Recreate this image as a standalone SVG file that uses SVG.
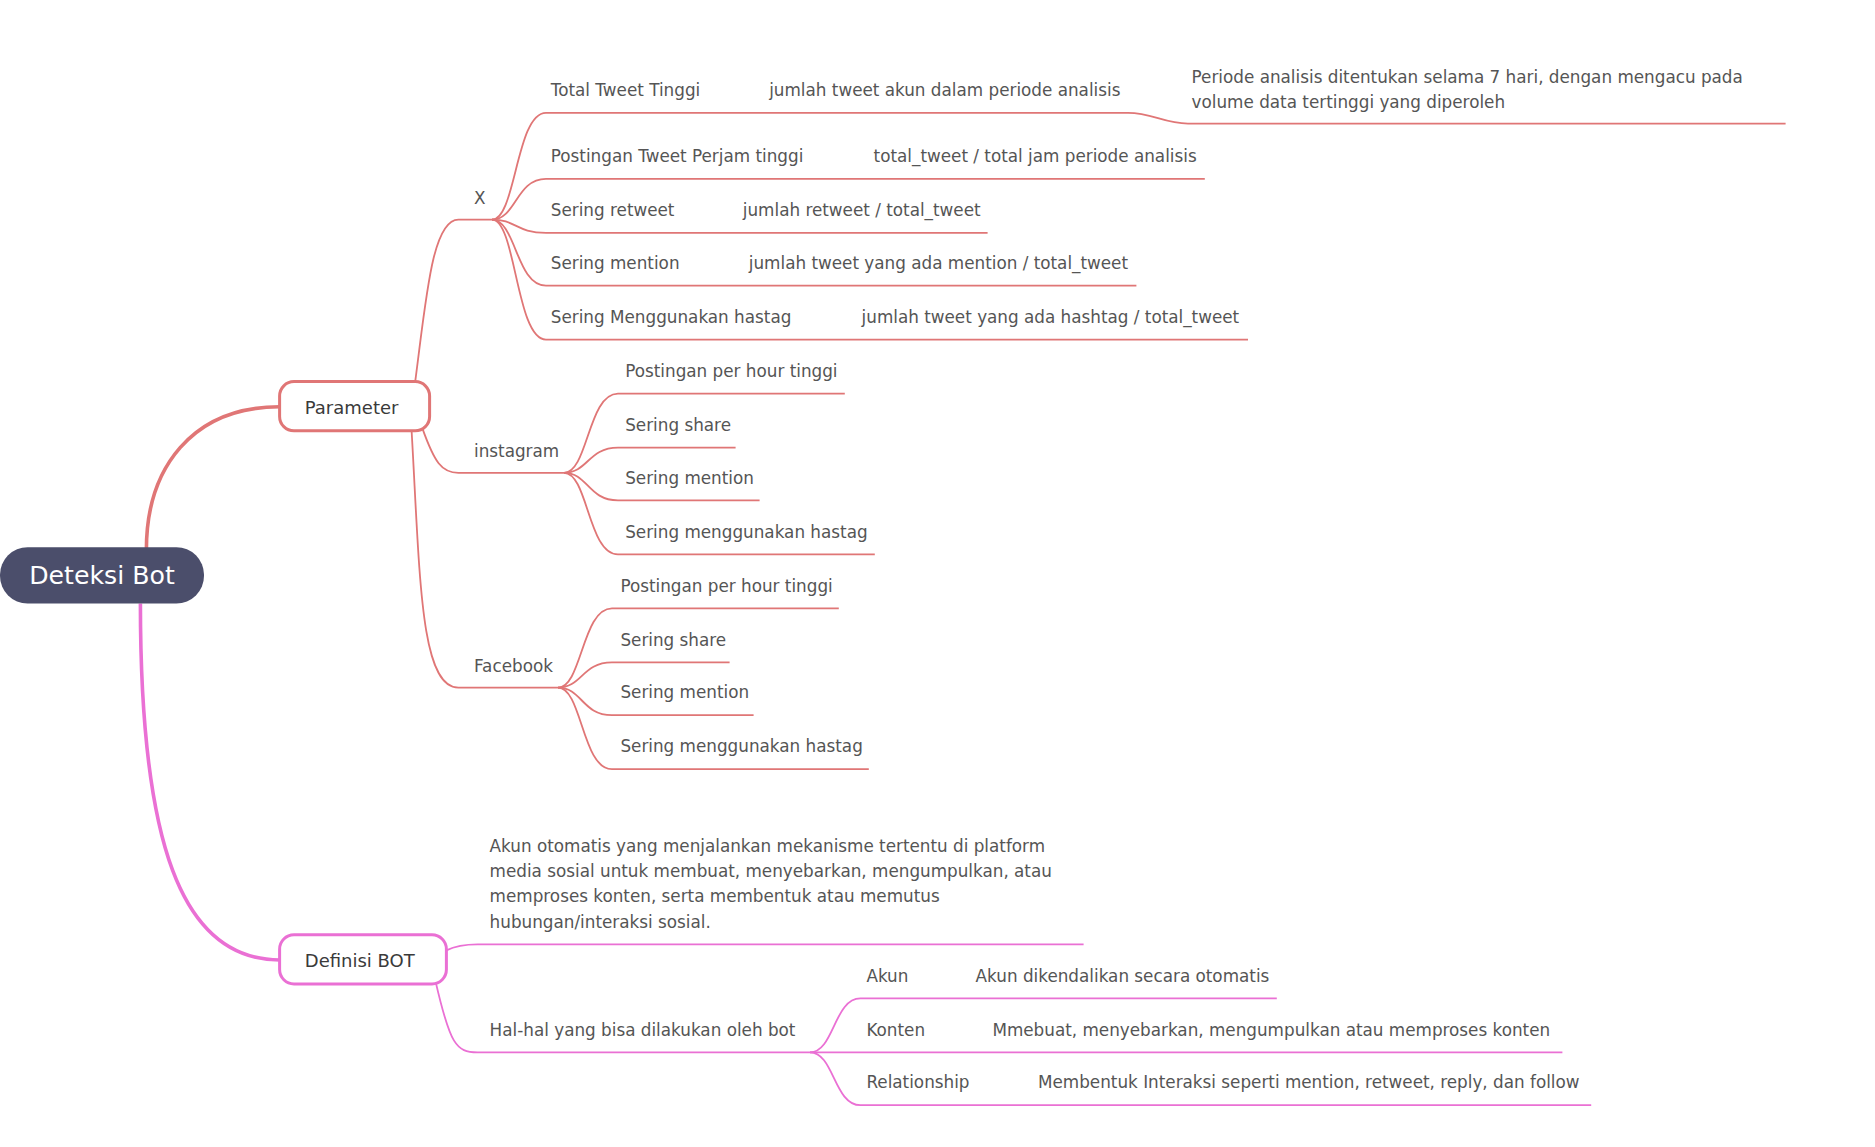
<svg xmlns="http://www.w3.org/2000/svg" width="1875" height="1147" viewBox="0 0 1875 1147">
<style>
text{font-family:"DejaVu Sans","Liberation Sans",sans-serif;font-size:14px;fill:#555}
.r{fill:none;stroke:#e07676;stroke-width:1.5}
.p{fill:none;stroke:#ea70d4;stroke-width:1.5}
</style>
<rect width="1875" height="1147" fill="#fff"/>
<g transform="scale(1.2)">
<g id="connectors">
<path d="M122,458 C122,390 160,339 233,339" fill="none" stroke="#e07676" stroke-width="3"/>
<path d="M117,503 C117,700 150,800 233,800" fill="none" stroke="#ea70d4" stroke-width="3"/>
<path class="r" d="M346,318 C355,250 360,183 382,183 H410"/>
<path class="r" d="M410,183 C430,183 430,94 455,94 H940 C960,94 970,103 990,103 H1488"/>
<path class="r" d="M410,183 C430,183 430,149 455,149 H1004"/>
<path class="r" d="M410,183 C430,183 430,194 455,194 H823"/>
<path class="r" d="M410,183 C430,183 430,238 455,238 H947"/>
<path class="r" d="M410,183 C430,183 430,283 455,283 H1040"/>
<path class="r" d="M352,357 C362,385 368,394 382,394 H470"/>
<path class="r" d="M470,394 C490,394 490,328 515,328 H704"/>
<path class="r" d="M470,394 C490,394 490,373 515,373 H613"/>
<path class="r" d="M470,394 C490,394 490,417 515,417 H633"/>
<path class="r" d="M470,394 C490,394 490,462 515,462 H729"/>
<path class="r" d="M343,359 C350,480 350,573 382,573 H465"/>
<path class="r" d="M465,573 C485,573 485,507 510,507 H699"/>
<path class="r" d="M465,573 C485,573 485,552 510,552 H608"/>
<path class="r" d="M465,573 C485,573 485,596 510,596 H628"/>
<path class="r" d="M465,573 C485,573 485,641 510,641 H724"/>
<path class="p" d="M372,792 C380,788 388,787 398,787 H903"/>
<path class="p" d="M363,818 C375,870 380,877 398,877 H675"/>
<path class="p" d="M675,877 C695,877 695,832 717,832 H1064"/>
<path class="p" d="M675,877 H1302"/>
<path class="p" d="M675,877 C695,877 695,921 717,921 H1326"/>
</g>
<g id="root"><rect x="0" y="456" width="170" height="47" rx="23" fill="#4b4e6b"/><text x="85" y="487" text-anchor="middle" style="font-size:21px;fill:#fff">Deteksi Bot</text></g>
<g id="parameter"><rect x="233" y="318" width="125" height="41" rx="12" fill="#fff" stroke="#e07676" stroke-width="2.5"/><text x="254" y="345" style="font-size:15px;fill:#3a3a3a">Parameter</text></g>
<g id="definisi"><rect x="233" y="779" width="139" height="41" rx="12" fill="#fff" stroke="#ea70d4" stroke-width="2.5"/><text x="254" y="806" style="font-size:15px;fill:#3a3a3a">Definisi BOT</text></g>
<g id="x"><text x="395" y="170">X</text>
<text x="459" y="80">Total Tweet Tinggi</text><text x="641" y="80">jumlah tweet akun dalam periode analisis</text>
<text x="993" y="69">Periode analisis ditentukan selama 7 hari, dengan mengacu pada</text><text x="993" y="90">volume data tertinggi yang diperoleh</text>
<text x="459" y="135">Postingan Tweet Perjam tinggi</text><text x="728" y="135">total_tweet / total jam periode analisis</text>
<text x="459" y="180">Sering retweet</text><text x="619" y="180">jumlah retweet / total_tweet</text>
<text x="459" y="224">Sering mention</text><text x="624" y="224">jumlah tweet yang ada mention / total_tweet</text>
<text x="459" y="269">Sering Menggunakan hastag</text><text x="718" y="269">jumlah tweet yang ada hashtag / total_tweet</text></g>
<g id="instagram"><text x="395" y="381">instagram</text>
<text x="521" y="314">Postingan per hour tinggi</text><text x="521" y="359">Sering share</text><text x="521" y="403">Sering mention</text><text x="521" y="448">Sering menggunakan hastag</text></g>
<g id="facebook"><text x="395" y="560">Facebook</text>
<text x="517" y="493">Postingan per hour tinggi</text><text x="517" y="538">Sering share</text><text x="517" y="582">Sering mention</text><text x="517" y="627">Sering menggunakan hastag</text></g>
<g id="def-text"><text x="408" y="710">Akun otomatis yang menjalankan mekanisme tertentu di platform</text><text x="408" y="731">media sosial untuk membuat, menyebarkan, mengumpulkan, atau</text><text x="408" y="752">memproses konten, serta membentuk atau memutus</text><text x="408" y="773">hubungan/interaksi sosial.</text></g>
<g id="halhal"><text x="408" y="863">Hal-hal yang bisa dilakukan oleh bot</text>
<text x="722" y="818">Akun</text><text x="813" y="818">Akun dikendalikan secara otomatis</text>
<text x="722" y="863">Konten</text><text x="827" y="863">Mmebuat, menyebarkan, mengumpulkan atau memproses konten</text>
<text x="722" y="907">Relationship</text><text x="865" y="907">Membentuk Interaksi seperti mention, retweet, reply, dan follow</text></g>
</g>
</svg>
